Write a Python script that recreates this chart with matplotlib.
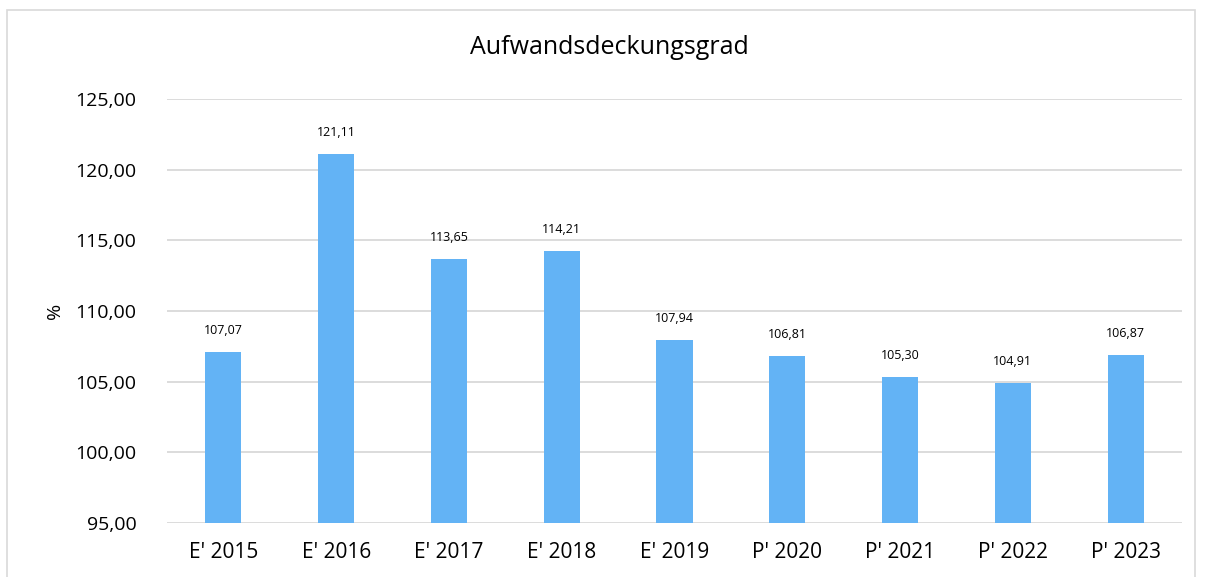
import matplotlib
matplotlib.use("Agg")
import matplotlib.pyplot as plt
from matplotlib.patches import Rectangle

categories = ["E' 2015", "E' 2016", "E' 2017", "E' 2018", "E' 2019",
              "P' 2020", "P' 2021", "P' 2022", "P' 2023"]
values = [107.07, 121.11, 113.65, 114.21, 107.94, 106.81, 105.30, 104.91, 106.87]
yticks = [95, 100, 105, 110, 115, 120, 125]

plt.rcParams['font.family'] = ['Open Sans', 'DejaVu Sans']

fig = plt.figure(figsize=(12.05, 5.77), dpi=100)
ax = fig.add_axes([167/1205, 1-523/577, (1182-167)/1205, (523-99)/577])

# outer chart border
fig.patches.append(Rectangle((7/1205, -0.05), (1195-7)/1205, 1-10/577+0.05,
                             transform=fig.transFigure, fill=False,
                             edgecolor='#D9D9D9', linewidth=1.2))

x = list(range(len(categories)))
ax.bar(x, values, width=0.32, color='#63B3F5', bottom=0, zorder=3)
ax.set_ylim(95, 125)
ax.set_xlim(-0.5, len(categories)-0.5)
ax.set_yticks(yticks)
ax.set_yticklabels([f"{v:.2f}".replace('.', ',') for v in yticks], fontsize=14)
ax.set_xticks(x)
ax.set_xticklabels(categories, fontsize=15)
ax.tick_params(axis='x', length=0, pad=14)
ax.tick_params(axis='y', length=0, pad=22)
ax.grid(axis='y', color='#D9D9D9', linewidth=1.3, zorder=0)
for s in ax.spines.values():
    s.set_visible(False)

for xi, v in zip(x, values):
    ax.annotate(f"{v:.2f}".replace('.', ','), (xi, v), xytext=(0, 11),
                textcoords='offset points', ha='center', va='bottom', fontsize=9)

fig.text(609/1205, 1-48/577, "Aufwandsdeckungsgrad", ha='center', va='center', fontsize=18)
fig.text(55/1205, 1-311/577, "%", ha='center', va='center', rotation=90, fontsize=14)

fig.savefig("out.png", dpi=100)
